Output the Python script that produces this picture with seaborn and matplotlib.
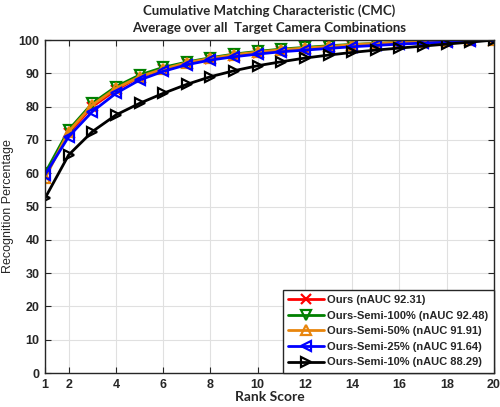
import numpy as np
import pandas as pd
import seaborn as sns
import matplotlib.pyplot as plt

# === Veriler (CMC eğrileri) ===
ranks = list(range(1, 21))
ours = [59.5, 72.0, 80.0, 85.0, 89.0, 91.2, 93.0, 94.3, 95.3, 96.2,
        96.8, 97.4, 97.9, 98.3, 98.7, 99.0, 99.3, 99.5, 99.8, 100.0]
semi_100 = [60.0, 73.0, 81.0, 86.0, 89.5, 91.8, 93.4, 94.7, 95.8, 96.6,
            97.3, 97.8, 98.3, 98.7, 99.0, 99.3, 99.5, 99.7, 99.9, 100.0]
semi_50 = [58.5, 72.5, 80.5, 85.5, 89.0, 91.3, 93.2, 94.5, 95.6, 96.4,
           97.1, 97.6, 98.1, 98.6, 99.0, 99.3, 99.5, 99.7, 99.9, 100.0]
semi_25 = [59.5, 71.0, 78.5, 84.0, 88.0, 90.6, 92.6, 94.0, 95.0, 95.8,
           96.5, 97.0, 97.5, 98.0, 98.4, 98.8, 99.1, 99.4, 99.7, 100.0]
semi_10 = [52.5, 65.5, 72.5, 77.5, 81.0, 84.0, 86.7, 89.0, 90.8, 92.3,
           93.5, 94.6, 95.5, 96.3, 97.0, 97.6, 98.2, 98.8, 99.4, 100.0]
labels = ["Ours (nAUC 92.31)", "Ours-Semi-100% (nAUC 92.48)",
          "Ours-Semi-50% (nAUC 91.91)", "Ours-Semi-25% (nAUC 91.64)",
          "Ours-Semi-10% (nAUC 88.29)"]
x_ticks = [1, 2, 4, 6, 8, 10, 12, 14, 16, 18, 20]

series = [ours, semi_100, semi_50, semi_25, semi_10]
colors = ["#ff0000", "#008000", "#e8850c", "#0000ff", "#000000"]
markers = ["x", "v", "^", "<", ">"]

df = pd.DataFrame({
    "rank": ranks * len(series),
    "value": [v for s in series for v in s],
    "method": [lab for lab in labels for _ in ranks],
})

sns.set_style("whitegrid", {"grid.color": "#e0e0e0", "axes.edgecolor": "#262626"})
plt.rcParams["font.family"] = ["Liberation Sans", "DejaVu Sans"]

fig = plt.figure(figsize=(5.0, 4.07), dpi=100)
ax = fig.add_axes([0.09, 0.0835, 0.898, 0.818])

for lab, col, mk in zip(labels, colors, markers):
    sub = df[df["method"] == lab]
    sns.lineplot(data=sub, x="rank", y="value", ax=ax, color=col, lw=2,
                 marker=mk, markersize=6.5, markerfacecolor="none",
                 markeredgecolor=col, markeredgewidth=1.6, label=lab)

ax.set_xlim(1, 20)
ax.set_ylim(0, 100)
ax.set_xticks(x_ticks)
ax.set_yticks(range(0, 101, 10))
ax.tick_params(labelsize=9, length=4, direction="in", pad=4, colors="#262626",
               bottom=True, left=True, top=True, right=True)
for t in ax.get_xticklabels() + ax.get_yticklabels():
    t.set_fontweight("bold")
for sp in ax.spines.values():
    sp.set_visible(True)
    sp.set_linewidth(1.0)

ax.set_xlabel("Rank Score", fontsize=10, fontweight="bold",
              family=["Lato", "DejaVu Sans"], labelpad=0)
ax.set_ylabel("Recognition Percentage", fontsize=9,
              family=["Liberation Sans", "DejaVu Sans"], labelpad=3)
ax.set_title("Cumulative Matching Characteristic (CMC)\nAverage over all  Target Camera Combinations",
             fontsize=9.5, fontweight="bold", family=["Lato", "DejaVu Sans"],
             pad=6, linespacing=1.5)

leg = ax.legend(loc="lower right", frameon=True, fancybox=False,
                borderaxespad=0, handlelength=3.2,
                borderpad=0.5, labelspacing=0.5, handletextpad=0.3,
                prop={"weight": "bold", "size": 8})
leg.get_frame().set_edgecolor("#262626")
leg.get_frame().set_linewidth(1.0)
leg.get_frame().set_alpha(1)

fig.savefig("out.png", dpi=100)
